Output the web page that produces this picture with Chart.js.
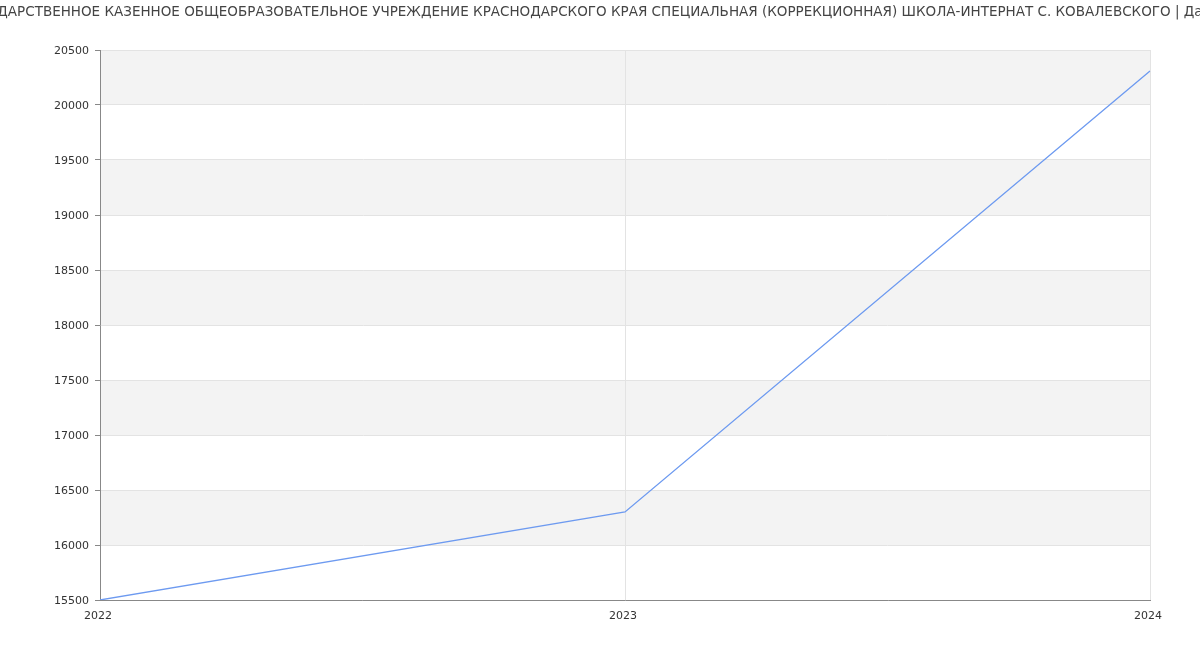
<!DOCTYPE html>
<html>
<head>
<meta charset="utf-8">
<script src="https://cdn.jsdelivr.net/npm/chart.js@4/dist/chart.umd.min.js"></script>
<style>
  html, body { margin: 0; padding: 0; background: #fff; }
  #wrap { width: 1200px; height: 650px; position: relative; }
</style>
</head>
<body>
<div id="wrap"><canvas id="c" width="1200" height="650"></canvas></div>
<script>
const titleText = "ГОСУДАРСТВЕННОЕ КАЗЕННОЕ ОБЩЕОБРАЗОВАТЕЛЬНОЕ УЧРЕЖДЕНИЕ КРАСНОДАРСКОГО КРАЯ СПЕЦИАЛЬНАЯ (КОРРЕКЦИОННАЯ) ШКОЛА-ИНТЕРНАТ С. КОВАЛЕВСКОГО | Данные";
const years = ["2022", "2023", "2024"];
const salaries = [15500, 16300, 20310];
const yMin = 15500, yMax = 20500, yStep = 500;

const bandsPlugin = {
  id: 'bands',
  beforeDraw(chart) {
    const { ctx, chartArea, scales } = chart;
    const y = scales.y;
    ctx.save();
    ctx.fillStyle = '#f3f3f3';
    for (let v = yMin; v < yMax; v += yStep) {
      const idx = Math.round((v - yMin) / yStep);
      if (idx % 2 === 1) {
        const top = y.getPixelForValue(v + yStep);
        const bot = y.getPixelForValue(v);
        ctx.fillRect(chartArea.left, top, chartArea.right - chartArea.left, bot - top);
      }
    }
    ctx.restore();
  }
};

const titlePlugin = {
  id: 'ctitle',
  afterDraw(chart) {
    const ctx = chart.ctx;
    ctx.save();
    ctx.font = '13.5px "DejaVu Sans"';
    ctx.fillStyle = '#444';
    ctx.textAlign = 'center';
    ctx.textBaseline = 'middle';
    ctx.fillText(titleText, chart.width / 2, 12.5);
    ctx.restore();
  }
};

new Chart(document.getElementById('c'), {
  type: 'line',
  data: {
    labels: years,
    datasets: [{
      data: salaries,
      borderColor: '#6d9af0',
      borderWidth: 1.3,
      pointRadius: 0,
      tension: 0,
      fill: false
    }]
  },
  options: {
    responsive: false,
    animation: false,
    layout: { padding: { top: 50, right: 50, left: 0, bottom: 0 } },
    plugins: { legend: { display: false }, title: { display: false }, tooltip: { enabled: false } },
    scales: {
      x: {
        type: 'category',
        offset: false,
        afterFit(s) { s.height = 50; },
        grid: { color: '#e3e3e3', drawTicks: false },
        border: { color: '#888', width: 1 },
        ticks: { color: '#333', font: { family: 'DejaVu Sans', size: 11 }, padding: 10, maxRotation: 0, labelOffset: -2 }
      },
      y: {
        min: yMin, max: yMax,
        afterFit(s) { s.width = 100; },
        grid: { color: '#e3e3e3', tickLength: 5, tickColor: '#888' },
        border: { color: '#888', width: 1 },
        ticks: { stepSize: yStep, color: '#333', font: { family: 'DejaVu Sans', size: 11 }, padding: 6, labelOffset: 1,
                 callback: (v) => String(v) }
      }
    }
  },
  plugins: [bandsPlugin, titlePlugin]
});
</script>
</body>
</html>
